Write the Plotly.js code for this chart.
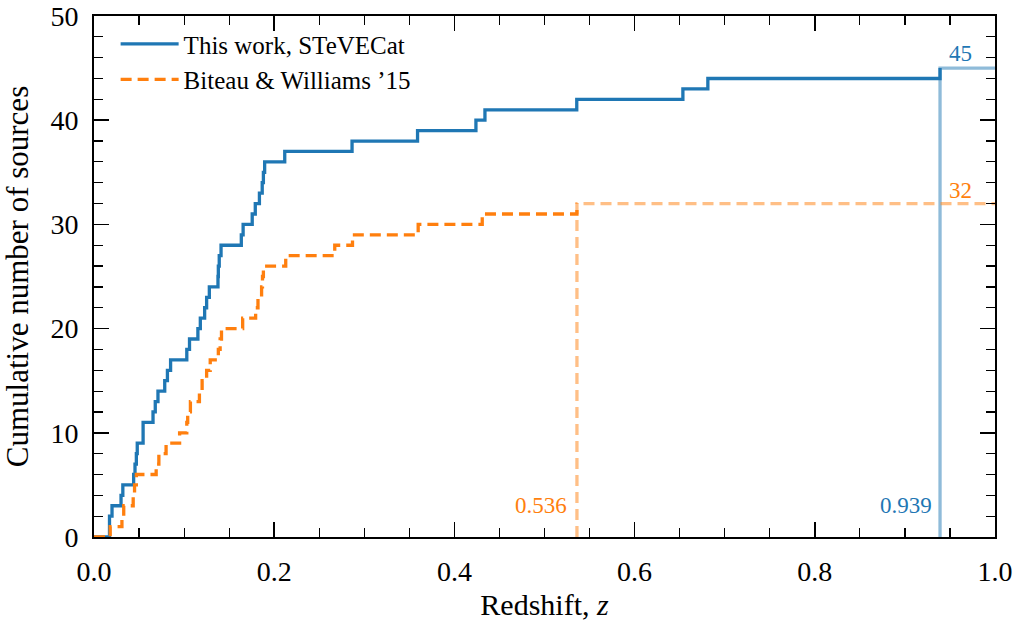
<!DOCTYPE html>
<html>
<head>
<meta charset="utf-8">
<script src="https://cdn.plot.ly/plotly-3.0.1.min.js"></script>
<style>html,body{margin:0;padding:0;background:#fff;}#chart{width:1019px;height:623px;}</style>
</head>
<body>
<div id="chart"></div>
<script>
// Step positions (redshift) and cumulative counts
const zBlue = [0, 0.0172, 0.020, 0.030, 0.032, 0.044, 0.0455, 0.047, 0.048, 0.0545, 0.0655, 0.068, 0.071, 0.0785, 0.0815, 0.085, 0.103, 0.106, 0.1153, 0.118, 0.1228, 0.125, 0.128, 0.1376, 0.138, 0.139, 0.141, 0.1635, 0.1655, 0.1756, 0.179, 0.1836, 0.1867, 0.188, 0.1894, 0.2117, 0.2864, 0.3591, 0.4239, 0.4339, 0.5358, 0.6536, 0.6813, 0.939];
const nBlue = [0, 2, 3, 4, 5, 6, 7, 8, 9, 11, 12, 13, 14, 15, 16, 17, 18, 19, 20, 21, 22, 23, 24, 25, 26, 27, 28, 29, 30, 31, 32, 33, 34, 35, 36, 37, 38, 39, 40, 41, 42, 43, 44, 45];
const zOrange = [0, 0.018, 0.031, 0.033, 0.0435, 0.045, 0.047, 0.069, 0.072, 0.080, 0.095, 0.103, 0.104, 0.107, 0.117, 0.120, 0.125, 0.129, 0.138, 0.140, 0.1415, 0.165, 0.1794, 0.182, 0.186, 0.187, 0.188, 0.2128, 0.2672, 0.2869, 0.3598, 0.4309, 0.536];
const nOrange = [0, 1, 2, 3, 4, 5, 6, 7, 8, 9, 10, 11, 12, 13, 14, 15, 16, 17, 18, 19, 20, 21, 22, 23, 24, 25, 26, 27, 28, 29, 30, 31, 32];
const seriesNames = ["This work, STeVECat", "Biteau & Williams \u201915"];
const xTickVals = [0, 0.2, 0.4, 0.6, 0.8, 1.0];
const xTickText = ["0.0", "0.2", "0.4", "0.6", "0.8", "1.0"];
const yTickVals = [0, 10, 20, 30, 40, 50];

const BLUE = "#1f77b4", ORANGE = "#ff7f0e";
const BLUE_L = "rgba(31,119,180,0.5)", ORANGE_L = "rgba(255,127,14,0.5)";
const FONT = "Liberation Serif, Times New Roman, serif";

const zbMax = zBlue[zBlue.length - 1], nbMax = nBlue[nBlue.length - 1];
const zoMax = zOrange[zOrange.length - 1], noMax = nOrange[nOrange.length - 1];

const traces = [
  {x: [zbMax, zbMax, 1], y: [0, nbMax, nbMax], mode: "lines", showlegend: false, hoverinfo: "skip",
   line: {color: BLUE_L, width: 3.3}},
  {x: [zoMax, zoMax, 1], y: [0, noMax, noMax], mode: "lines", showlegend: false, hoverinfo: "skip",
   line: {color: ORANGE_L, width: 3.3, dash: "11px,6px"}},
  {x: zBlue, y: nBlue, mode: "lines", name: seriesNames[0], line: {color: BLUE, width: 3.3, shape: "hv"}},
  {x: zOrange, y: nOrange, mode: "lines", name: seriesNames[1], line: {color: ORANGE, width: 3.3, shape: "hv", dash: "11px,6px"}}
];

const axisCommon = {
  showgrid: false, zeroline: false, showline: true, linecolor: "#000", linewidth: 2,
  mirror: "allticks", ticks: "inside", ticklen: 15, tickwidth: 1.5, tickcolor: "#000",
  tickfont: {family: FONT, size: 28, color: "#000"}
};

const layout = {
  width: 1019, height: 623,
  margin: {l: 94, r: 24, t: 16, b: 86, pad: 0},
  paper_bgcolor: "#fff", plot_bgcolor: "#fff",
  font: {family: FONT, color: "#000"},
  xaxis: Object.assign({}, axisCommon, {
    range: [0, 1], tickvals: xTickVals, ticktext: xTickText, ticklabelstandoff: 8,
    minor: {ticks: "inside", dtick: 0.05, ticklen: 9, tickwidth: 1.2, tickcolor: "#000", showgrid: false},
    title: {text: "Redshift, <i>z</i>", font: {family: FONT, size: 30, color: "#000"}, standoff: 8}
  }),
  yaxis: Object.assign({}, axisCommon, {
    range: [0, 50], tickvals: yTickVals, ticklabelstandoff: 8,
    minor: {ticks: "inside", dtick: 2, ticklen: 9, tickwidth: 1.2, tickcolor: "#000", showgrid: false},
    title: {text: "Cumulative number of sources", font: {family: FONT, size: 31, color: "#000"}, standoff: 14}
  }),
  legend: {x: 0.024, y: 0.99, xanchor: "left", yanchor: "top", bgcolor: "rgba(255,255,255,0)",
    font: {family: FONT, size: 25, color: "#000"}, tracegroupgap: 0, itemwidth: 58},
  annotations: [
    {x: 0.95, y: nbMax, xref: "x", yref: "y", text: String(nbMax), showarrow: false, xanchor: "left", yanchor: "bottom",
     font: {family: FONT, size: 23, color: BLUE}, xshift: -3, yshift: 0},
    {x: 0.95, y: noMax, xref: "x", yref: "y", text: String(noMax), showarrow: false, xanchor: "left", yanchor: "bottom",
     font: {family: FONT, size: 23, color: ORANGE}, xshift: -3, yshift: -1},
    {x: zoMax, y: 2, xref: "x", yref: "y", text: zoMax.toFixed(3), showarrow: false, xanchor: "right", yanchor: "bottom",
     font: {family: FONT, size: 23, color: ORANGE}, xshift: -8, yshift: -4},
    {x: zbMax, y: 2, xref: "x", yref: "y", text: zbMax.toFixed(3), showarrow: false, xanchor: "right", yanchor: "bottom",
     font: {family: FONT, size: 23, color: BLUE}, xshift: -6, yshift: -4}
  ]
};

Plotly.newPlot("chart", traces, layout, {displayModeBar: false, staticPlot: true});
</script>
</body>
</html>
